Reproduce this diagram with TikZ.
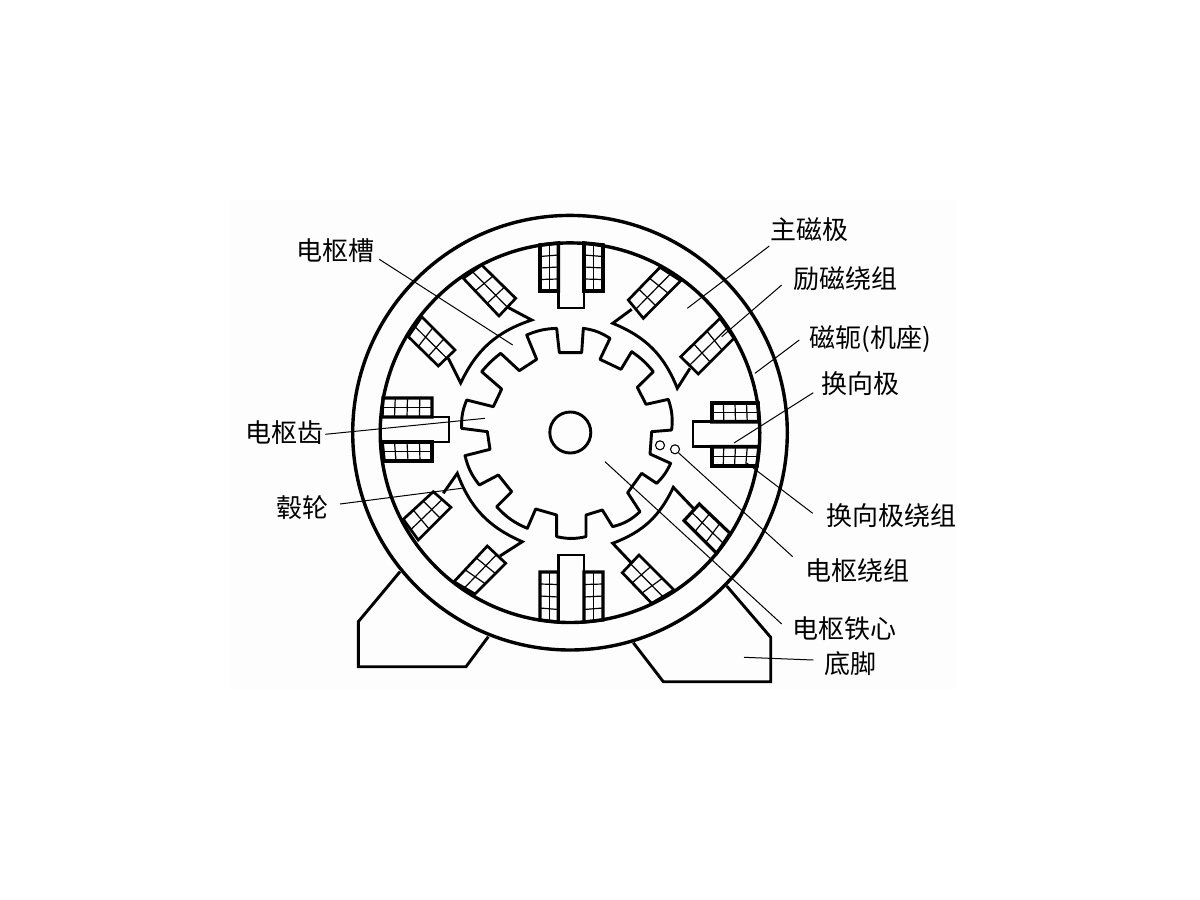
\documentclass[tikz,border=0pt]{standalone}
\usepackage{fontspec}
\newfontfamily\cjk{Noto Sans CJK SC}
\usetikzlibrary{calc}
\tikzset{
  heavy/.style={line width=2.9pt,line join=miter,black},
  ring/.style={line width=3.4pt,black},
  cell/.style={line width=1.2pt,black},
  leader/.style={line width=1pt,black},
  lbl/.style={font=\cjk\fontsize{26}{26}\selectfont,inner sep=0pt,anchor=center,text=black},
  hole/.style={circle,draw=black,line width=1.1pt,minimum size=9pt,inner sep=0pt,fill=white}
}
% corners a,b,c,d ; m cells along a-b ; n cells along a-d ; outline width
\newcommand{\coilbox}[7]{%
  \coordinate (ca) at #1; \coordinate (cb) at #2; \coordinate (cc) at #3; \coordinate (cd) at #4;
  \pgfmathtruncatemacro{\mm}{#5-1}
  \pgfmathtruncatemacro{\nn}{#6-1}
  \foreach \i in {1,...,\mm} {\draw[cell] ($(ca)!{\i/#5}!(cb)$) -- ($(cd)!{\i/#5}!(cc)$);}
  \foreach \i in {1,...,\nn} {\draw[cell] ($(ca)!{\i/#6}!(cd)$) -- ($(cb)!{\i/#6}!(cc)$);}
  \draw[line width=#7,line join=miter,black] (ca) -- (cb) -- (cc) -- (cd) -- cycle;
}
\begin{document}
\begin{tikzpicture}[x=1pt,y=-1pt]
\useasboundingbox (0,0) rectangle (1200,900);
\fill[white] (0,0) rectangle (1200,900);
\fill[black!0.7] (230,200) rectangle (957,689);

% feet
\draw[heavy] (400,571.7) -- (358.3,621.7) -- (358.3,666.7) -- (466,666.7) -- (488.3,636.7);
\draw[heavy] (633.3,642.7) -- (663.3,681.7) -- (770.7,681.7) -- (770.7,637.3) -- (726.7,586);

% yoke
\coordinate (ctr) at (570,432.7);
\draw[ring] (ctr) circle [radius=217.3pt];
\draw[ring] (ctr) circle [radius=189.8pt];

% interpoles
\draw[heavy] (558.3,243) -- (558.3,308) -- (584,308) -- (584,243);
\draw[heavy] (558.3,622) -- (558.3,555) -- (584,555) -- (584,622);
\draw[heavy] (382,417) -- (449,417) -- (449,442) -- (382,442);
\draw[heavy] (759,421.7) -- (693,421.7) -- (693,446.7) -- (759,446.7);
% interpole coils
\coilbox{(540,245)}{(558.3,243)}{(558.3,291)}{(540,291)}{2}{4}{3.6pt}
\coilbox{(584,243)}{(603,245)}{(603,291)}{(584,291)}{2}{4}{3.6pt}
\coilbox{(540,620)}{(558.3,622)}{(558.3,572)}{(540,572)}{2}{4}{3.2pt}
\coilbox{(584,622)}{(603,620)}{(603,572)}{(584,572)}{2}{4}{3.2pt}
\coilbox{(383,398)}{(382,417)}{(432,417)}{(432,398)}{2}{4}{3.2pt}
\coilbox{(382,442)}{(384,461)}{(432,461)}{(432,442)}{2}{4}{3.6pt}
\coilbox{(758,403)}{(759,421.7)}{(712,421.7)}{(712,403)}{2}{4}{3.6pt}
\coilbox{(759,446.7)}{(757,466)}{(712,466)}{(712,446.7)}{2}{4}{3.6pt}

% main poles
\draw[heavy] (448.3,358.3) -- (460.7,383) to[bend left=23] (531.7,320) -- (506.7,306.7);
\draw[heavy] (631.7,309.3) -- (612.7,323.3) to[bend left=23] (677.3,388.3) -- (690,368.3);
\draw[heavy] (693.3,508.3) -- (673.3,487.3) to[bend left=22] (612.7,543.3) -- (631.7,563.3);
\draw[heavy] (500,556) -- (522.3,541.7) to[bend left=23] (457.3,473.3) -- (443.3,493.3);
% main pole coils
\coilbox{(463.3,278.3)}{(481.7,265)}{(515.7,298.3)}{(499,316)}{2}{3}{2.7pt}
\coilbox{(421.7,316.7)}{(408.3,336.7)}{(438.3,366)}{(455,350)}{2}{3}{2.7pt}
\coilbox{(660,267.3)}{(680.7,280.7)}{(643.3,318.3)}{(628.3,300)}{2}{3}{2.7pt}
\coilbox{(720,318.3)}{(734,338.3)}{(698.3,374)}{(680.7,356.7)}{2}{3}{2.7pt}
\coilbox{(403.3,519.3)}{(418.3,540)}{(451,507.3)}{(433.3,491.7)}{2}{3}{2.7pt}
\coilbox{(454,581.7)}{(475,594)}{(505.7,563.3)}{(487.3,546)}{2}{3}{2.7pt}
\coilbox{(730,533.3)}{(716.7,553.3)}{(684,520.7)}{(699.3,504)}{2}{3}{3.2pt}
\coilbox{(674,590)}{(651.7,603.3)}{(622.3,572.7)}{(639,555)}{2}{3}{2.7pt}

% armature
\begin{scope}[shift={(440,310)},x=0.33333pt,y=-0.33333pt]
\draw[heavy,line join=round]
 (260,75) to[bend left=10] (350,55) -- (358,128) -- (425,128) --
 (430,55) to[bend left=12] (510,85) -- (480,148) -- (543,178) --
 (575,125) to[bend left=8] (640,185) -- (592,232) -- (618,283) --
 (685,268) to[bend left=12] (695,360) -- (635,365) -- (630,432) --
 (692,460) to[bend left=10] (650,520) -- (605,490) -- (563,548) --
 (600,605) to[bend left=14] (518,650) -- (487,600) -- (438,615) --
 (438,680) to[bend left=12] (350,680) -- (350,615) -- (287,597) --
 (262,655) to[bend left=12] (170,590) -- (215,545) -- (175,495) --
 (118,525) to[bend left=12] (75,437) -- (150,418) -- (142,365) --
 (65,355) to[bend left=12] (80,270) -- (160,290) -- (185,237) --
 (125,185) to[bend left=6] (182,130) -- (238,182) -- (290,148) -- cycle;
\end{scope}
\draw[heavy] (570.3,432.5) circle [radius=20.5pt];
\node[hole] (w1) at (660,445.3) {};
\node[hole] (w2) at (675,449.3) {};

% labels
\node[lbl] (zhu)  at (809,230) {主磁极};
\node[lbl] (li)   at (845,279) {励磁绕组};
\node[lbl] (e)    at (870,339) {磁轭(机座)};
\node[lbl] (huan) at (860.5,384) {换向极};
\node[lbl] (hr)   at (891,516) {换向极绕组};
\node[lbl] (sr)   at (857,571) {电枢绕组};
\node[lbl] (tx)   at (844,629) {电枢铁心};
\node[lbl] (dj)   at (850,664) {底脚};
\node[lbl] (cao)  at (335,251) {电枢槽};
\node[lbl] (chi)  at (284,433) {电枢齿};
\node[lbl] (gu)   at (302,508) {毂轮};

% leader ends
\coordinate (zhuA) at (769.3,246);   \coordinate (zhuB) at (687.3,308.3);
\coordinate (liA)  at (781.7,285);   \coordinate (liB)  at (721.7,336.7);
\coordinate (eA)   at (799.3,340);   \coordinate (eB)   at (755,373.3);
\coordinate (huanA) at (813.3,392.7);\coordinate (huanB) at (734,443);
\coordinate (hrA)  at (812.7,513.3); \coordinate (hrB)  at (746.7,463);
\coordinate (srA)  at (792.7,556.7);
\coordinate (txA)  at (781.7,624);   \coordinate (txB)  at (605,461.7);
\coordinate (djA)  at (813.3,660);   \coordinate (djB)  at (744,657.3);
\coordinate (caoA) at (379.3,259.3); \coordinate (caoB) at (512.7,345);
\coordinate (chiA) at (325.3,434.3); \coordinate (chiB) at (485,418.3);
\coordinate (guA)  at (340,504);     \coordinate (guB)  at (461.7,488.3);

\draw[leader] (zhuA) -- (zhuB);
\draw[leader] (liA) -- (liB);
\draw[leader] (eA) -- (eB);
\draw[leader] (huanA) -- (huanB);
\draw[leader] (hrA) -- (hrB);
\draw[leader] (srA) -- (w2.south east);
\draw[leader] (txA) -- (txB);
\draw[leader] (djA) -- (djB);
\draw[leader] (caoA) -- (caoB);
\draw[leader] (chiA) -- (chiB);
\draw[leader] (guA) -- (guB);
\end{tikzpicture}
\end{document}
